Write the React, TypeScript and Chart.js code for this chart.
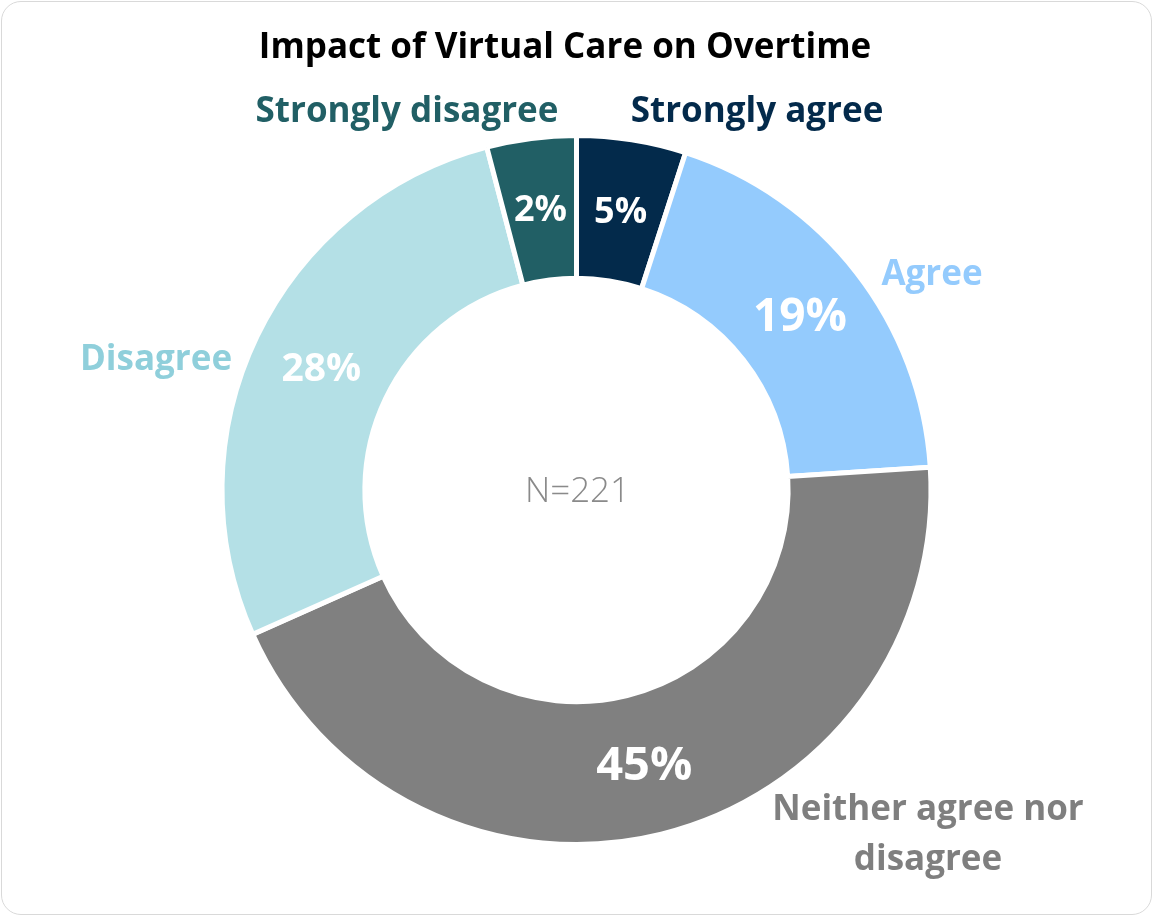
import React, { useEffect, useRef } from "react";
import { Chart, registerables } from "chart.js";

Chart.register(...registerables);

const categories = ["Strongly agree", "Agree", "Neither agree nor disagree", "Disagree", "Strongly disagree"];
const counts = [11, 42, 98, 61, 9];
const percentLabels = ["5%", "19%", "45%", "28%", "2%"];
const sliceColors = ["#032a4b", "#94cbfd", "#808080", "#b4e0e6", "#215f65"];
const labelColors = ["#032a4b", "#94cbfd", "#7f7f7f", "#8fcfdb", "#215f65"];
const percentFontSizes = [36, 46, 47, 39, 36];
const titleText = "Impact of Virtual Care on Overtime";
const centerText = "N=221";

const FONT = "'Open Sans', 'Noto Sans', sans-serif";

// outside category label anchors (text annotations, centre x / centre y of each line)
const outsideLabels = [
  { lines: ["Strongly agree"], x: 757, y: 112 },
  { lines: ["Agree"], x: 932, y: 275 },
  { lines: ["Neither agree nor", "disagree"], x: 928, y: 810 },
  { lines: ["Disagree"], x: 156, y: 360 },
  { lines: ["Strongly disagree"], x: 407, y: 112 },
];

const labelPlugin = {
  id: "labelPlugin",
  afterDatasetsDraw(chart: any) {
    const ctx = chart.ctx;
    const meta = chart.getDatasetMeta(0);
    ctx.save();
    ctx.textAlign = "center";
    ctx.textBaseline = "middle";
    // title
    ctx.fillStyle = "#000000";
    ctx.font = `bold 35px ${FONT}`;
    ctx.fillText(titleText, 565, 48);
    // percent labels
    meta.data.forEach((arc: any, i: number) => {
      const p = arc.tooltipPosition();
      ctx.fillStyle = "#ffffff";
      ctx.font = `bold ${percentFontSizes[i]}px ${FONT}`;
      ctx.fillText(percentLabels[i], p.x, p.y + 2);
    });
    // outside labels
    outsideLabels.forEach((l, i) => {
      ctx.fillStyle = labelColors[i];
      ctx.font = `bold 35px ${FONT}`;
      l.lines.forEach((t, j) => ctx.fillText(t, l.x, l.y + j * 50));
    });
    // center text
    const c = meta.data[0];
    ctx.fillStyle = "#8a8a8a";
    ctx.font = `300 35px ${FONT}`;
    ctx.fillText(centerText, c.x + 1, c.y + 2);
    ctx.restore();
  },
};

export default function App() {
  const ref = useRef<HTMLCanvasElement>(null);
  useEffect(() => {
    const chart = new Chart(ref.current!, {
      type: "doughnut",
      data: {
        labels: categories,
        datasets: [
          {
            data: counts,
            backgroundColor: sliceColors,
            borderColor: "#ffffff",
            borderWidth: 5,
            hoverOffset: 0,
          },
        ],
      },
      options: {
        animation: false,
        responsive: false,
        maintainAspectRatio: false,
        cutout: "59.7%",
        layout: { padding: { top: 133, bottom: 69, left: 0, right: 0 } },
        plugins: {
          legend: { display: false },
          tooltip: { enabled: false },
          title: { display: false },
        },
      },
      plugins: [labelPlugin],
    });
    return () => chart.destroy();
  }, []);
  return (
    <div
      style={{
        position: "absolute",
        left: 0,
        top: 0,
        width: 1153,
        height: 916,
        background: "#ffffff",
      }}
    >
      <canvas ref={ref} width={1153} height={916} style={{ position: "absolute", left: 0, top: 0 }} />
      <div
        style={{
          position: "absolute",
          left: 1,
          top: 1,
          width: 1149,
          height: 912,
          border: "1.5px solid #d9d9d9",
          borderRadius: 20,
          pointerEvents: "none",
        }}
      />
    </div>
  );
}
